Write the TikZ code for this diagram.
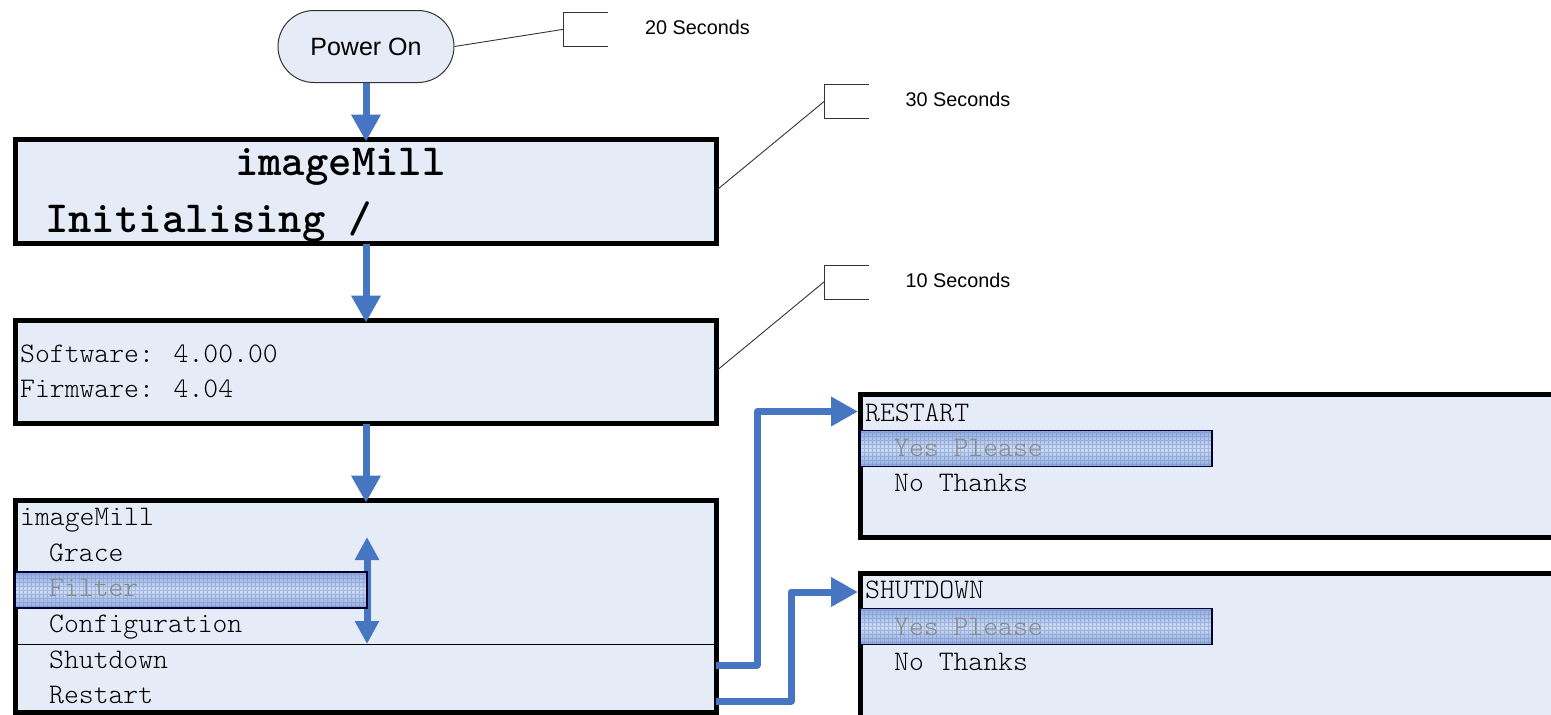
\documentclass[tikz,border=0pt]{standalone}
\usepackage{fontspec}
\newfontfamily\arialf{Liberation Sans}
\usetikzlibrary{arrows.meta}
\definecolor{scrfill}{HTML}{E6ECF7}
\definecolor{flowblue}{HTML}{4675C2}
\definecolor{hltop}{HTML}{93ACDC}
\definecolor{hlmid}{HTML}{D0DCF1}
\definecolor{hlgrid}{HTML}{5F86CC}
\definecolor{dimtext}{HTML}{8A8A8A}
\newcommand{\monof}{\ttfamily\fontseries{l}\fontsize{28.3}{31}\selectfont}
\newcommand{\monobf}{\ttfamily\bfseries\fontsize{44.5}{48}\selectfont}
\begin{document}
\begin{tikzpicture}[x=1pt,y=-1pt,
  screen/.style={draw=black, line width=5pt, fill=scrfill, inner sep=0pt, outer sep=0pt, anchor=north west},
  flow/.style={draw=flowblue, line width=7pt, line join=round, -{Triangle[width=28pt,length=27pt]}},
  dflow/.style={draw=flowblue, line width=7pt, {Triangle[width=23pt,length=23pt]}-{Triangle[width=23pt,length=23pt]}},
  callout/.style={draw=black!80, line width=0.9pt},
  lbl/.style={inner sep=0pt, anchor=base west, font=\monof},
  dim/.style={lbl, text=dimtext},
  big/.style={inner sep=0pt, anchor=base west, font=\monobf},
  secs/.style={inner sep=0pt, anchor=base west, font=\arialf\fontsize{19.8}{22}\selectfont},
  hl/.style={draw=black!80!blue, line width=1.2pt, inner sep=0pt, outer sep=0pt, anchor=north west,
    top color=hltop, bottom color=hltop, middle color=hlmid,
    path picture={\draw[hlgrid, opacity=0.4, line width=0.6pt, step=4pt]
      (path picture bounding box.south west) grid (path picture bounding box.north east);}},
  pill/.style={draw=black!80, line width=1pt, fill=scrfill, rounded corners=36pt, inner sep=0pt,
    minimum width=176pt, minimum height=72pt, font=\arialf\fontsize{25}{28}\selectfont}
]
\useasboundingbox (0,0) rectangle (1551,715);
\clip (0,0) rectangle (1551,715);

% power on
\node[pill] (power) at (366,46.5) {Power On};

% screens
\node[screen, minimum width=701pt, minimum height=104pt] (init) at (15.5,139.5) {};
\node[screen, minimum width=701pt, minimum height=103pt] (ver) at (15.5,320.5) {};
\node[screen, minimum width=701pt, minimum height=211.5pt] (menu) at (15.5,500.5) {};
\node[screen, minimum width=750pt, minimum height=143pt] (restart) at (860.5,394.5) {};
\node[screen, minimum width=750pt, minimum height=160pt] (shutdown) at (860.5,573.5) {};

% screen 1 text
\node[big] (t1a) at (235,175) {imageMill};
\node[big] (t1b) at (45,232) {Initialising /};

% screen 2 text
\node[lbl] (t2a) at (20,362) {Software: 4.00.00};
\node[lbl] (t2b) at (20,397.5) {Firmware: 4.04};

% menu screen
\coordinate (divl) at (16,644);
\coordinate (divr) at (716,644);
\draw[black, line width=1pt] (divl) -- (divr);
\coordinate (dtop) at (367,537);
\coordinate (dbot) at (367,644);
\draw[dflow] (dtop) -- (dbot);
\node[hl, minimum width=352pt, minimum height=36pt] (hlm) at (15,572) {};
\node[lbl] (m0) at (20,525) {imageMill};
\node[lbl] (m1) at (49,561) {Grace};
\node[dim] (m2) at (49,596.5) {Filter};
\node[lbl] (m3) at (49,632.5) {Configuration};
\node[lbl] (m4) at (49,668) {Shutdown};
\node[lbl] (m5) at (49,703.5) {Restart};

% restart screen
\node[hl, minimum width=352pt, minimum height=36pt] (hlr) at (860,430.5) {};
\node[lbl] (r0) at (865,421) {RESTART};
\node[dim] (r1) at (894,456) {Yes Please};
\node[lbl] (r2) at (894,491) {No Thanks};

% shutdown screen
\node[hl, minimum width=352pt, minimum height=36pt] (hls) at (860,608.5) {};
\node[lbl] (s0) at (865,598.5) {SHUTDOWN};
\node[dim] (s1) at (894,635) {Yes Please};
\node[lbl] (s2) at (894,670.5) {No Thanks};

% flow arrows
\draw[flow] (power.south) -- ([yshift=-2pt]init.north);
\draw[flow] (init.south) -- ([yshift=-2pt]ver.north);
\draw[flow] (ver.south) -- ([yshift=-2pt]menu.north);

\coordinate (sdout) at (716,665);
\coordinate (rsin) at (858,411.5);
\coordinate (rsout) at (716,701);
\coordinate (sdin) at (858,592);
\draw[flow] (sdout) -- (757,665) |- (rsin);
\draw[flow] (rsout) -- (791,701) |- (sdin);

% callouts
\coordinate (c20) at (563.5,29.3);
\draw[callout] (608,12) -- (563.5,12) -- (563.5,46.5) -- (608,46.5);
\draw[callout] (power.east) -- (c20);
\node[secs] (l20) at (645,34) {20 Seconds};

\coordinate (c30) at (824,101.5);
\draw[callout] (869,84) -- (824,84) -- (824,118.5) -- (869,118.5);
\coordinate (e30) at (718,189);
\draw[callout] (e30) -- (c30);
\node[secs] (l30) at (905.5,106.5) {30 Seconds};

\coordinate (c10) at (824,282);
\draw[callout] (869,265) -- (824,265) -- (824,299.5) -- (869,299.5);
\coordinate (e10) at (718,369.5);
\draw[callout] (e10) -- (c10);
\node[secs] (l10) at (905.5,287) {10 Seconds};
\end{tikzpicture}
\end{document}
